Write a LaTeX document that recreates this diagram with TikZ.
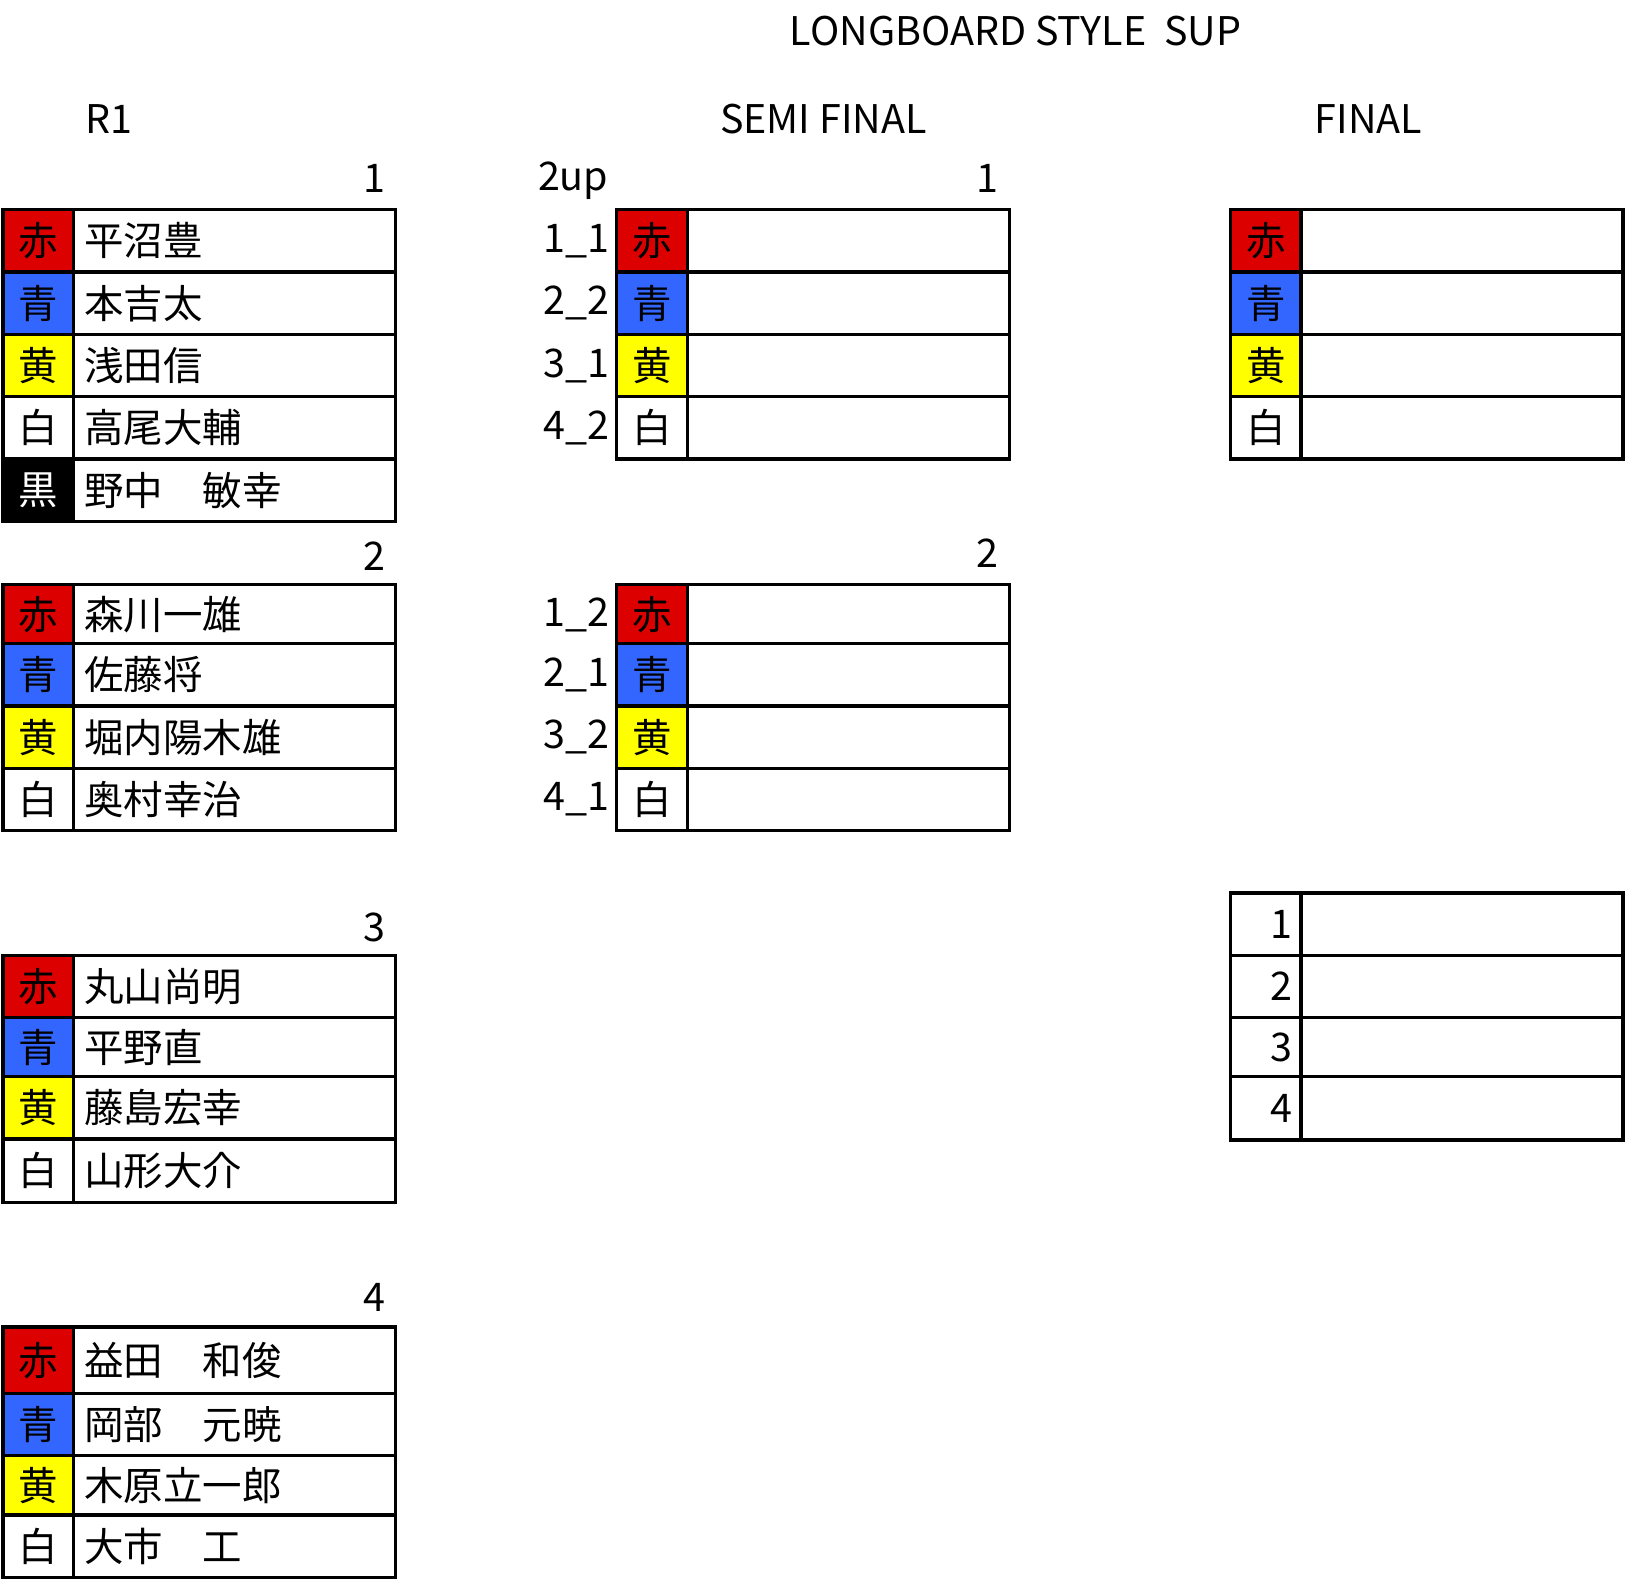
\documentclass[tikz,border=0pt]{standalone}
\usepackage{fontspec}
\setmainfont{Noto Sans CJK JP}
\definecolor{cred}{HTML}{DD0000}
\definecolor{cblue}{HTML}{3366FF}
\definecolor{cyel}{HTML}{FFFF00}
\tikzset{tb/.style={line width=1.6pt},
 cjk/.style={font=\fontsize{19}{19}\selectfont, inner sep=0pt},
 ttl/.style={font=\fontsize{19}{19}\selectfont, inner sep=0pt}}
\newcommand\grp[2]{% #1 = x0, #2 = list y1/y2/color/textcolor/char/name
 \foreach \a/\b/\c/\t/\k/\n in {#2}{
  \fill[\c] (#1,\a) rectangle ({#1+68},\b);
  \node[cjk,text=\t] (k\a#1) at ({#1+34},{(\a+\b)/2}) {\k};
  \node[cjk,anchor=west] (n\a#1) at ({#1+78},{(\a+\b)/2}) {\n};
  \draw[tb] (#1,\a) rectangle ({#1+378},\b);
  \draw[tb] ({#1+68},\a) -- ({#1+68},\b);
 }}
\begin{document}
\begin{tikzpicture}[x=0.5pt,y=-0.5pt]
\useasboundingbox (0,0) rectangle (1566,1522);
\node[ttl] (title) at (978,30) {LONGBOARD STYLE\ \ SUP};
\node[ttl] (r1) at (105,115) {R1};
\node[ttl] (semi) at (793,115) {SEMI FINAL};
\node[ttl] (fin) at (1318,115) {FINAL};
% group numbers
\node[ttl,anchor=east] (g1) at (372,172) {1};
\node[ttl,anchor=east] (g2) at (372,536) {2};
\node[ttl,anchor=east] (g3) at (372,893) {3};
\node[ttl,anchor=east] (g4) at (372,1250) {4};
\node[ttl,anchor=east] (s1) at (962,172) {1};
\node[ttl,anchor=east] (s2) at (962,533) {2};
\node[ttl] (up) at (552,174) {2up};
% R1
\grp{3}{202/262/cred/black/赤/平沼豊, 262/322/cblue/black/青/本吉太, 322/382/cyel/black/黄/浅田信, 382/442/white/black/白/高尾大輔, 442/502/black/white/黒/野中　敏幸}
\grp{3}{563/620/cred/black/赤/森川一雄, 620/680/cblue/black/青/佐藤将, 680/740/cyel/black/黄/堀内陽木雄, 740/800/white/black/白/奥村幸治}
\grp{3}{920/980/cred/black/赤/丸山尚明, 980/1037/cblue/black/青/平野直, 1037/1097/cyel/black/黄/藤島宏幸, 1097/1158/white/black/白/山形大介}
\grp{3}{1278/1342/cred/black/赤/益田　和俊, 1342/1402/cblue/black/青/岡部　元暁, 1402/1459/cyel/black/黄/木原立一郎, 1459/1519/white/black/白/大市　工}
% semi
\grp{594}{202/262/cred/black/赤/{}, 262/322/cblue/black/青/{}, 322/382/cyel/black/黄/{}, 382/442/white/black/白/{}}
\grp{594}{563/620/cred/black/赤/{}, 620/680/cblue/black/青/{}, 680/740/cyel/black/黄/{}, 740/800/white/black/白/{}}
\foreach \y/\s in {232/1\_1, 292/2\_2, 352/3\_1, 412/4\_2, 592/1\_2, 650/2\_1, 710/3\_2, 770/4\_1}
 \node[ttl] (l\y) at (555,\y) {\s};
% final
\grp{1185}{202/262/cred/black/赤/{}, 262/322/cblue/black/青/{}, 322/382/cyel/black/黄/{}, 382/442/white/black/白/{}}
\foreach \a/\b/\s in {860/920/1, 920/980/2, 980/1037/3, 1037/1098/4}{
 \node[ttl,anchor=east] (r\s) at (1245,{(\a+\b)/2}) {\s};
 \draw[tb] (1185,\a) rectangle (1563,\b);
 \draw[tb] (1253,\a) -- (1253,\b);
}
\end{tikzpicture}
\end{document}
